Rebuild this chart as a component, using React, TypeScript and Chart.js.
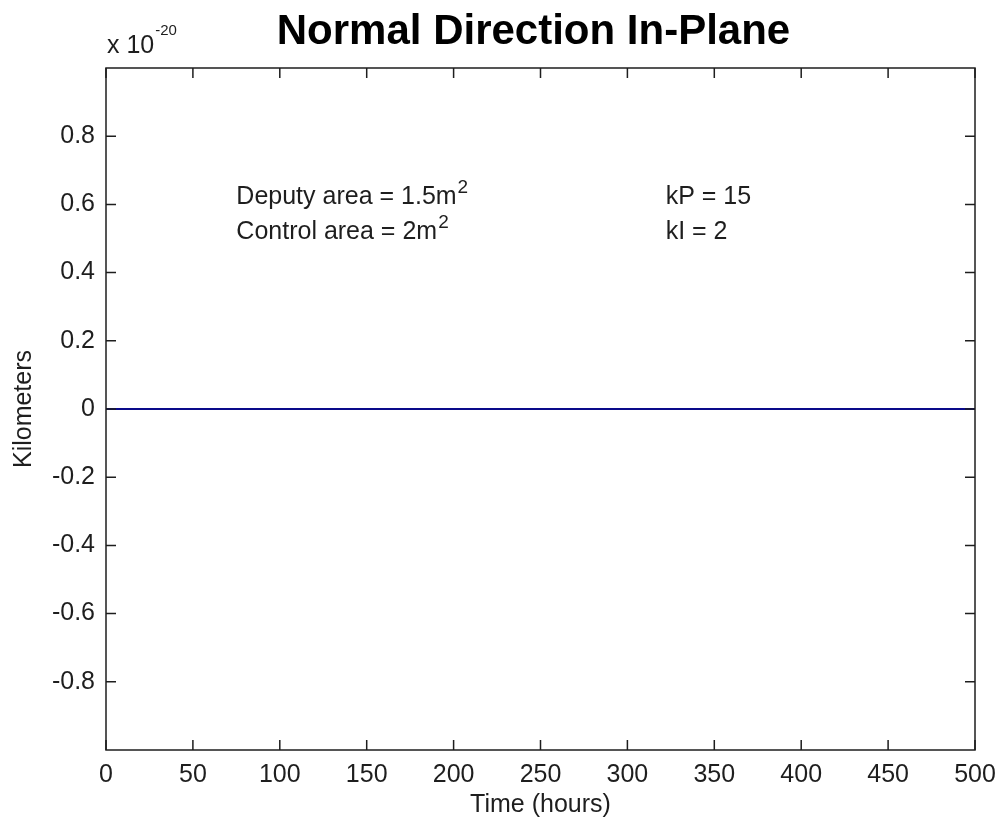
import React, { useEffect, useRef } from "react";
import { Chart, registerables } from "chart.js";

Chart.register(...registerables);

// Time samples (hours) and normal-direction in-plane offset (units of 1e-20 km)
const timeHours = [0, 50, 100, 150, 200, 250, 300, 350, 400, 450, 500];
const normalOffset = [0, 0, 0, 0, 0, 0, 0, 0, 0, 0, 0];

const xTicks = [0, 50, 100, 150, 200, 250, 300, 350, 400, 450, 500];
const yTicks = [-0.8, -0.6, -0.4, -0.2, 0, 0.2, 0.4, 0.6, 0.8];
const yRange = [-1, 1];
const xRange = [0, 500];

const titleText = "Normal Direction In-Plane";
const xTitle = "Time (hours)";
const yTitle = "Kilometers";
const exponentBase = "x 10";
const exponentPower = "-20";

// Annotation lines: [x (hours), y, main text, superscript]
const annotations: [number, number, string, string][] = [
  [75, 0.6, "Deputy area = 1.5m", "2"],
  [75, 0.5, "Control area = 2m", "2"],
  [322, 0.6, "kP = 15", ""],
  [322, 0.5, "kI = 2", ""],
];

const FONT = "'Liberation Sans', Arial, sans-serif";
const INK = "#1e1e1e";

const framePlugin = {
  id: "matlabFrame",
  afterDraw(chart: any) {
    const { ctx, chartArea } = chart;
    const xs = chart.scales.x;
    const ys = chart.scales.y;
    const { left, right, top, bottom } = chartArea;
    const tick = 10;
    ctx.save();
    ctx.strokeStyle = INK;
    ctx.lineWidth = 1.5;
    ctx.strokeRect(left, top, right - left, bottom - top);
    ctx.beginPath();
    xTicks.forEach((v) => {
      const px = xs.getPixelForValue(v);
      ctx.moveTo(px, bottom);
      ctx.lineTo(px, bottom - tick);
      ctx.moveTo(px, top);
      ctx.lineTo(px, top + tick);
    });
    yTicks.forEach((v) => {
      const py = ys.getPixelForValue(v);
      ctx.moveTo(left, py);
      ctx.lineTo(left + tick, py);
      ctx.moveTo(right, py);
      ctx.lineTo(right - tick, py);
    });
    ctx.stroke();

    // title
    ctx.fillStyle = "#000";
    ctx.font = `bold 42px ${FONT}`;
    ctx.textAlign = "center";
    ctx.textBaseline = "alphabetic";
    ctx.fillText(titleText, (left + right) / 2 - 7, 44);

    // axis exponent
    ctx.fillStyle = INK;
    ctx.textAlign = "left";
    ctx.font = `25px ${FONT}`;
    ctx.fillText(exponentBase, left + 1, 53);
    const bw = ctx.measureText(exponentBase).width;
    ctx.font = `15px ${FONT}`;
    ctx.fillText(exponentPower, left + 2 + bw, 35);

    // annotations
    annotations.forEach(([x, y, text, sup]) => {
      const px = xs.getPixelForValue(x);
      const py = ys.getPixelForValue(y);
      ctx.font = `25px ${FONT}`;
      ctx.fillText(text, px, py);
      if (sup) {
        const w = ctx.measureText(text).width;
        ctx.font = `19px ${FONT}`;
        ctx.fillText(sup, px + w + 1, py - 11);
      }
    });
    ctx.restore();
  },
};

export default function App() {
  const canvasRef = useRef<HTMLCanvasElement | null>(null);

  useEffect(() => {
    const canvas = canvasRef.current;
    if (!canvas) return;
    const chart = new Chart(canvas, {
      type: "line",
      data: {
        labels: timeHours,
        datasets: [
          {
            data: timeHours.map((t, i) => ({ x: t, y: normalOffset[i] })),
            borderColor: "#0a0a8a",
            borderWidth: 2,
            pointRadius: 0,
            tension: 0,
          },
        ],
      },
      options: {
        responsive: false,
        animation: false,
        devicePixelRatio: 1,
        layout: { padding: { top: 68, right: 25, left: 0, bottom: 0 } },
        plugins: {
          legend: { display: false },
          tooltip: { enabled: false },
          title: { display: false },
        },
        scales: {
          x: {
            type: "linear",
            min: xRange[0],
            max: xRange[1],
            grid: { display: false, drawTicks: false },
            border: { display: false },
            afterFit: (s: any) => {
              s.height = 75;
              s.paddingLeft = 0;
              s.paddingRight = 0;
            },
            afterBuildTicks: (s: any) => {
              s.ticks = xTicks.map((v) => ({ value: v }));
            },
            ticks: {
              color: INK,
              font: { family: FONT, size: 25 },
              padding: 10,
              maxRotation: 0,
              autoSkip: false,
            },
            title: {
              display: true,
              text: xTitle,
              color: INK,
              font: { family: FONT, size: 25 },
              padding: { top: 0, bottom: 5 },
            },
          },
          y: {
            type: "linear",
            min: yRange[0],
            max: yRange[1],
            grid: { display: false, drawTicks: false },
            border: { display: false },
            afterFit: (s: any) => {
              s.width = 106;
              s.paddingTop = 0;
              s.paddingBottom = 0;
            },
            afterBuildTicks: (s: any) => {
              s.ticks = yTicks.map((v) => ({ value: v }));
            },
            ticks: {
              color: INK,
              font: { family: FONT, size: 25 },
              padding: 11,
              autoSkip: false,
              callback: (v: any) => (Math.abs(v) < 1e-9 ? "0" : String(Number(v).toFixed(1))),
            },
            title: {
              display: true,
              text: yTitle,
              color: INK,
              font: { family: FONT, size: 25 },
              padding: { top: 9, bottom: 0 },
            },
          },
        },
      },
      plugins: [framePlugin],
    });
    return () => chart.destroy();
  }, []);

  return (
    <div style={{ position: "fixed", left: 0, top: 0, width: 1000, height: 825, background: "#fff" }}>
      <canvas ref={canvasRef} width={1000} height={825} style={{ width: 1000, height: 825, display: "block" }} />
    </div>
  );
}
